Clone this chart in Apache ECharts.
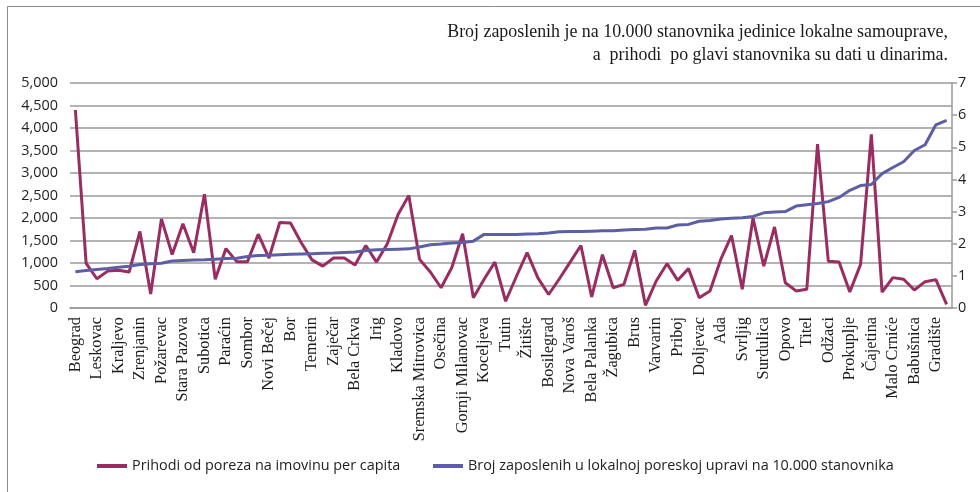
<!DOCTYPE html>
<html>
<head>
<meta charset="utf-8">
<script src="https://cdn.jsdelivr.net/npm/echarts@6/dist/echarts.min.js"></script>
<style>
  html, body { margin: 0; padding: 0; background: #fff; }
  #chart { width: 980px; height: 492px; }
</style>
</head>
<body>
<div id="chart"></div>
<script>
// Municipalities whose names appear on the category axis (every other category is labelled)
const shownNames = ['Beograd', 'Leskovac', 'Kraljevo', 'Zrenjanin', 'Požarevac', 'Stara Pazova', 'Subotica',
  'Paraćin', 'Sombor', 'Novi Bečej', 'Bor', 'Temerin', 'Zaječar', 'Bela Crkva', 'Irig', 'Kladovo',
  'Sremska Mitrovica', 'Osečina', 'Gornji Milanovac', 'Koceljeva', 'Tutin', 'Žitište', 'Bosilegrad',
  'Nova Varoš', 'Bela Palanka', 'Žagubica', 'Brus', 'Varvarin', 'Priboj', 'Doljevac', 'Ada', 'Svrljig',
  'Surdulica', 'Opovo', 'Titel', 'Odžaci', 'Prokuplje', 'Čajetina', 'Malo Crniće', 'Babušnica', 'Gradište'];

// Property tax revenue per capita (dinars), left axis
const prihodi = [4400, 990, 650, 820, 840, 800, 1700, 310, 1980, 1190,
  1870, 1230, 2530, 640, 1320, 1030, 1030, 1640, 1110, 1900,
  1890, 1450, 1070, 930, 1110, 1110, 955, 1390, 1020, 1430,
  2080, 2500, 1080, 800, 450, 900, 1650, 230, 640, 1020,
  150, 700, 1230, 670, 300, 650, 1020, 1390, 245, 1185,
  450, 525, 1280, 60, 600, 985, 615, 875, 230, 380,
  1080, 1610, 415, 2000, 930, 1800, 560, 380, 415, 3640,
  1040, 1020, 355, 970, 3860, 355, 675, 640, 400, 585,
  630, 80];

// Tax administration employees per 10,000 inhabitants, right axis
const zaposleni = [1.13, 1.17, 1.20, 1.23, 1.27, 1.30, 1.35, 1.38, 1.39, 1.46,
  1.48, 1.49, 1.50, 1.52, 1.54, 1.55, 1.60, 1.63, 1.64, 1.66,
  1.67, 1.68, 1.69, 1.70, 1.71, 1.73, 1.74, 1.79, 1.81, 1.82,
  1.83, 1.84, 1.90, 1.97, 1.99, 2.02, 2.04, 2.08, 2.29, 2.29,
  2.29, 2.29, 2.30, 2.31, 2.33, 2.37, 2.38, 2.38, 2.39, 2.40,
  2.40, 2.43, 2.44, 2.45, 2.49, 2.49, 2.58, 2.60, 2.70, 2.72,
  2.77, 2.79, 2.81, 2.85, 2.96, 2.99, 3.00, 3.17, 3.21, 3.25,
  3.31, 3.44, 3.66, 3.81, 3.84, 4.18, 4.37, 4.55, 4.90, 5.08,
  5.70, 5.84];

// Category list: labelled names at even positions, unlabelled municipalities in between
const categories = [];
for (let i = 0; i < prihodi.length; i++) {
  categories.push(i % 2 === 0 ? shownNames[i / 2] : '');
}

const leftTicks = { min: 0, max: 5000, interval: 500 };
const rightTicks = { min: 0, max: 7, interval: 1 };

const seriesNames = ['Prihodi od poreza na imovinu per capita',
  'Broj zaposlenih u lokalnoj poreskoj upravi na 10.000 stanovnika'];
const noteLines = ['Broj zaposlenih je na 10.000 stanovnika jedinice lokalne samouprave,',
  'a  prihodi  po glavi stanovnika su dati u dinarima.'];

const purple = '#992C60';
const blue = '#5C5FA6';
const gridGray = '#9A9A9A';
const sansFont = '"Open Sans", "Liberation Sans", sans-serif';
const serifFont = '"Liberation Serif", "DejaVu Serif", serif';

const chart = echarts.init(document.getElementById('chart'), null, { renderer: 'canvas' });

const legendText = { fontFamily: sansFont, fontSize: 14.4, color: '#222' };

chart.setOption({
  animation: false,
  backgroundColor: '#fff',
  grid: { left: 70, right: 28, top: 83, bottom: 184, containLabel: false },
  graphic: [
    {
      type: 'rect', silent: true, z: -1,
      shape: { x: 7.5, y: 6.5, width: 1000, height: 520 },
      style: { fill: 'none', stroke: '#8c8c8c', lineWidth: 1 }
    },
    {
      type: 'text', right: 32, top: 23,
      style: { text: noteLines[0], font: '17.9px ' + serifFont, fill: '#1a1a1a', textAlign: 'right' }
    },
    {
      type: 'text', right: 32, top: 46,
      style: { text: noteLines[1], font: '17.9px ' + serifFont, fill: '#1a1a1a', textAlign: 'right' }
    }
  ],
  legend: [
    {
      data: [seriesNames[0]], left: 97, top: 459, padding: 0,
      icon: 'rect', itemWidth: 30, itemHeight: 4, itemGap: 6,
      textStyle: legendText
    },
    {
      data: [seriesNames[1]], left: 433, top: 459, padding: 0,
      icon: 'rect', itemWidth: 30, itemHeight: 4, itemGap: 6,
      textStyle: legendText
    }
  ],
  xAxis: {
    type: 'category',
    data: categories,
    boundaryGap: true,
    axisLine: { show: true, lineStyle: { color: gridGray, width: 1.5 } },
    axisTick: { show: false },
    axisLabel: {
      interval: 1, rotate: 90, margin: 9,
      fontFamily: serifFont, fontSize: 16.3, color: '#1a1a1a'
    }
  },
  yAxis: [
    {
      type: 'value', position: 'left',
      min: leftTicks.min, max: leftTicks.max, interval: leftTicks.interval,
      axisLine: { show: false }, axisTick: { show: false },
      splitLine: { show: true, lineStyle: { color: gridGray, width: 1.5 } },
      axisLabel: {
        margin: 12, fontFamily: sansFont, fontSize: 14.4, color: '#222',
        formatter: v => v.toLocaleString('en-US')
      }
    },
    {
      type: 'value', position: 'right',
      min: rightTicks.min, max: rightTicks.max, interval: rightTicks.interval,
      axisLine: { show: true, lineStyle: { color: gridGray, width: 1.5 } },
      axisTick: { show: true, inside: false, length: 5, lineStyle: { color: gridGray, width: 1.5 } },
      splitLine: { show: false },
      axisLabel: { margin: 6, fontFamily: sansFont, fontSize: 14.4, color: '#222' }
    }
  ],
  series: [
    {
      name: seriesNames[0], type: 'line', yAxisIndex: 0,
      data: prihodi, showSymbol: false, symbol: 'none',
      itemStyle: { color: purple },
      lineStyle: { color: purple, width: 3 }, z: 2
    },
    {
      name: seriesNames[1], type: 'line', yAxisIndex: 1,
      data: zaposleni, showSymbol: false, symbol: 'none',
      itemStyle: { color: blue },
      lineStyle: { color: blue, width: 3 }, z: 3
    }
  ]
});
</script>
</body>
</html>
